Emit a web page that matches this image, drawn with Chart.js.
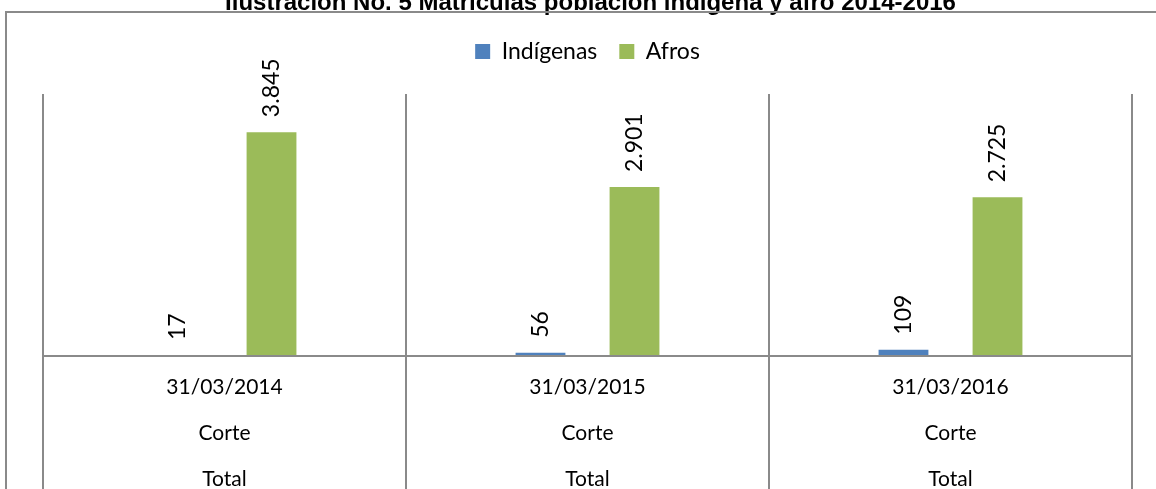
<!DOCTYPE html>
<html>
<head>
<meta charset="utf-8">
<title>Matrículas población indígena y afro</title>
<script src="https://cdn.jsdelivr.net/npm/chart.js@4/dist/chart.umd.min.js"></script>
<style>
    html, body { margin: 0; padding: 0; background: #fff; overflow: hidden; }
    #wrap { position: relative; width: 1156px; height: 518px; }
</style>
</head>
<body>
<div id="wrap"><canvas id="bar-chart"></canvas></div>
<script>
var titulo = "Ilustración No. 5 Matrículas población indígena y afro 2014-2016";
var fechas = ["31/03/2014", "31/03/2015", "31/03/2016"];
var nivelCorte = "Corte";
var nivelTotal = "Total";
var indigenas = [17, 56, 109];
var afros = [3845, 2901, 2725];

var lineColor = "#8a8a8a";
var fontFamily = "Lato, 'Open Sans', sans-serif";

function formatMiles(v) {
    return String(v).replace(/\B(?=(\d{3})+(?!\d))/g, ".");
}

// title (cut off at the top), outer frame, dividers, baseline and value labels
var decorPlugin = {
    id: "decor",
    afterDraw: function (chart) {
        var ctx = chart.ctx;
        var area = chart.chartArea;
        var x = chart.scales.x;
        var y = chart.scales.y;
        ctx.save();

        ctx.font = "bold 24px 'Liberation Sans', Arial, sans-serif";
        ctx.fillStyle = "#000";
        ctx.textAlign = "center";
        ctx.textBaseline = "alphabetic";
        ctx.fillText(titulo, (area.left + area.right) / 2 + 3, 10);

        ctx.strokeStyle = lineColor;
        ctx.lineWidth = 2;
        ctx.strokeRect(6, 12, chart.width + 50, chart.height + 50);

        ctx.beginPath();
        for (var i = 0; i <= fechas.length; i++) {
            var px = Math.round(x.getPixelForValue(i - 0.5));
            ctx.moveTo(px, area.top);
            ctx.lineTo(px, chart.height);
        }
        var py = Math.round(y.getPixelForValue(0));
        ctx.moveTo(area.left, py);
        ctx.lineTo(area.right, py);
        ctx.stroke();

        ctx.font = "23px " + fontFamily;
        ctx.fillStyle = "#000";
        ctx.textAlign = "left";
        ctx.textBaseline = "middle";
        chart.data.datasets.forEach(function (ds, di) {
            var meta = chart.getDatasetMeta(di);
            meta.data.forEach(function (bar, j) {
                ctx.save();
                ctx.translate(bar.x, bar.y - 15);
                ctx.rotate(-Math.PI / 2);
                ctx.fillText(formatMiles(ds.data[j]), 0, 0);
                ctx.restore();
            });
        });
        ctx.restore();
    },
};

var ctxChart = document.getElementById("bar-chart").getContext("2d");

var config = {
    type: "bar",
    data: {
        labels: fechas.map(function (f) {
            return [f, nivelCorte, nivelTotal];
        }),
        datasets: [
            {
                label: "Indígenas",
                data: indigenas,
                backgroundColor: "#4F81BD",
                categoryPercentage: 0.518,
                barPercentage: 0.53,
            },
            {
                label: "Afros",
                data: afros,
                backgroundColor: "#9BBB59",
                categoryPercentage: 0.518,
                barPercentage: 0.53,
            },
        ],
    },
    options: {
        responsive: true,
        maintainAspectRatio: false,
        animation: false,
        layout: {
            padding: { left: 43, right: 24, top: 18, bottom: 8 },
        },
        plugins: {
            legend: {
                position: "top",
                labels: {
                    boxWidth: 15,
                    boxHeight: 15,
                    padding: 22,
                    color: "#000",
                    font: { family: fontFamily, size: 23 },
                },
            },
            tooltip: { enabled: false },
        },
        scales: {
            y: {
                display: false,
                min: 0,
                max: 4500,
            },
            x: {
                offset: true,
                grid: { display: false, drawTicks: false },
                border: { display: false },
                ticks: {
                    color: "#000",
                    padding: 8,
                    maxRotation: 0,
                    font: { family: fontFamily, size: 21, lineHeight: 2.19 },
                },
            },
            // empty top axis, only keeps a gap between the legend and the plot
            spacer: {
                type: "category",
                position: "top",
                grid: { display: false, drawTicks: false },
                border: { display: false },
                ticks: { display: false },
                afterFit: function (scale) {
                    scale.height = 21;
                },
            },
        },
    },
    plugins: [decorPlugin],
};

var barChart = new Chart(ctxChart, config);
</script>
</body>
</html>
